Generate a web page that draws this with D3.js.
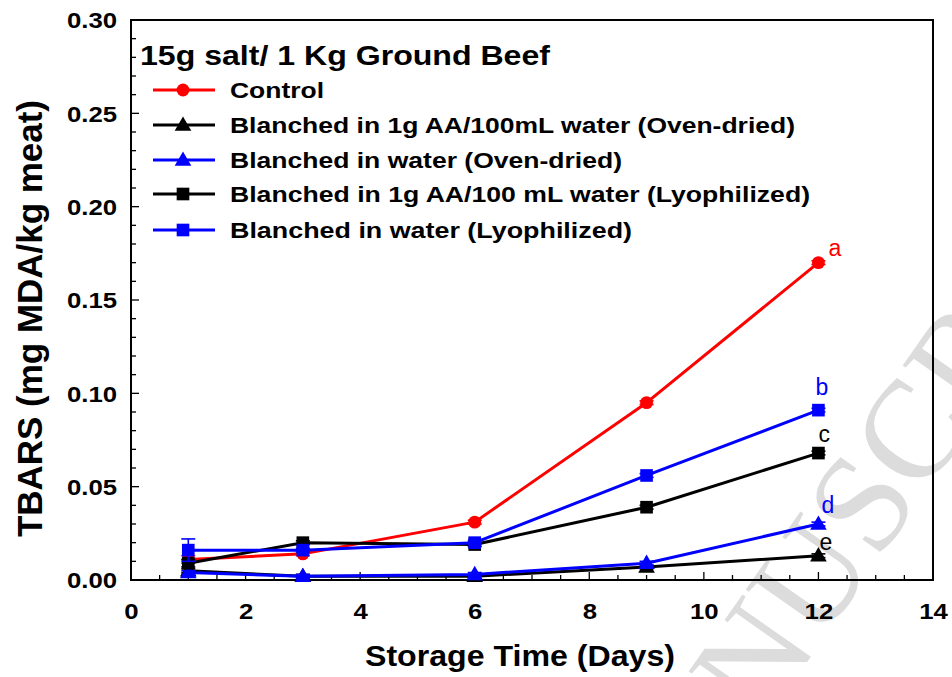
<!DOCTYPE html>
<html>
<head>
<meta charset="utf-8">
<script src="https://cdn.jsdelivr.net/npm/d3@7"></script>
<style>
  html, body { margin: 0; padding: 0; background: #fff; }
  svg { display: block; font-family: Arial, "Liberation Sans", sans-serif; }
</style>
</head>
<body>
<svg id="chart" width="952" height="677"></svg>
<script>
// ---- data ----
const days = [1, 3, 6, 9, 12];
const control   = [0.011, 0.014, 0.031, 0.095, 0.170];
const aaOven    = [0.005, 0.002, 0.002, 0.007, 0.013];
const waterOven = [0.004, 0.002, 0.003, 0.009, 0.030];
const aaLyo     = [0.009, 0.020, 0.019, 0.039, 0.068];
const waterLyo  = [0.016, 0.016, 0.020, 0.056, 0.091];

const controlErr   = [0.002, 0.001, 0.001, 0.001, 0.001];
const aaOvenErr    = [0.001, 0.001, 0.001, 0.001, 0.001];
const waterOvenErr = [0.001, 0.001, 0.001, 0.001, 0.001];
const aaLyoErr     = [0.002, 0.001, 0.001, 0.001, 0.001];
const waterLyoErr  = [0.006, 0.001, 0.001, 0.001, 0.001];

const seriesNames = [
  "Control",
  "Blanched in 1g AA/100mL water (Oven-dried)",
  "Blanched in water (Oven-dried)",
  "Blanched in 1g AA/100 mL water (Lyophilized)",
  "Blanched in water (Lyophilized)"
];
const seriesColors = ["#ff0000", "#000000", "#0000ff", "#000000", "#0000ff"];
const seriesMarkers = ["circle", "triangle", "triangle", "square", "square"];
const sigLetters = ["a", "e", "d", "c", "b"];

const xTicks = [0, 2, 4, 6, 8, 10, 12, 14];
const yTicks = [0.00, 0.05, 0.10, 0.15, 0.20, 0.25, 0.30];
const legendTitle = "15g salt/ 1 Kg Ground Beef";
const xTitle = "Storage Time (Days)";
const yTitle = "TBARS (mg MDA/kg meat)";
const watermark = "ACCEPTED MANUSCRIPT";

const series = [
  { values: control,   err: controlErr },
  { values: aaOven,    err: aaOvenErr },
  { values: waterOven, err: waterOvenErr },
  { values: aaLyo,     err: aaLyoErr },
  { values: waterLyo,  err: waterLyoErr }
].map((s, i) => ({ ...s, name: seriesNames[i], color: seriesColors[i], marker: seriesMarkers[i], letter: sigLetters[i] }));

// ---- layout ----
const svg = d3.select("#chart");
const pLeft = 131, pRight = 933, pTop = 20, pBottom = 580;
const x = d3.scaleLinear().domain([0, 14]).range([pLeft, pRight]);
const y = d3.scaleLinear().domain([0, 0.30]).range([pBottom, pTop]);
const STRETCH = 1.17;
const letterDx = [10, 1, 3, 0, -3];
const letterDy = [-7, -6, -11, -11, -15];

// watermark (behind everything)
const wmG = svg.append("g");
const wmFs = 140;
const wmT = wmG.append("text")
  .attr("x", 0).attr("y", 0)
  .attr("font-family", "'Liberation Serif', 'DejaVu Serif', serif")
  .attr("font-size", wmFs)
  .attr("fill", "#dcdcdc")
  .text(watermark);
{
  const idx = watermark.indexOf("S", watermark.indexOf("MANU"));
  const p = wmT.node().getStartPositionOfChar(idx);
  const th = -55 * Math.PI / 180;
  const u = p.x + 0.28 * wmFs, v = -0.33 * wmFs;
  const rx = u * Math.cos(th) - v * Math.sin(th);
  const ry = u * Math.sin(th) + v * Math.cos(th);
  const tx = 862 - rx, ty = 503 - ry;
  wmG.attr("transform", `translate(${tx},${ty}) rotate(-55)`);
}

// axes
const xAxis = d3.axisBottom(x).tickValues(xTicks).tickSize(0).tickPadding(0).tickFormat(d3.format("d"));
const yAxis = d3.axisLeft(y).tickValues(yTicks).tickSize(0).tickPadding(0).tickFormat(d3.format(".2f"));

const gx = svg.append("g").attr("transform", `translate(0,${pBottom})`).call(xAxis);
gx.select(".domain").remove();
gx.selectAll("text")
  .attr("x", 0).attr("y", 39).attr("dy", 0)
  .attr("transform", `scale(${STRETCH},1)`)
  .attr("font-size", 22).attr("font-weight", "bold").attr("fill", "#000")
  .attr("font-family", "Arial, 'Liberation Sans', sans-serif");

const gy = svg.append("g").attr("transform", `translate(${pLeft},0)`).call(yAxis);
gy.select(".domain").remove();
gy.selectAll("text")
  .attr("x", -14 / STRETCH).attr("dy", "0.36em")
  .attr("transform", `scale(${STRETCH},1)`)
  .attr("font-size", 22).attr("font-weight", "bold").attr("fill", "#000")
  .attr("font-family", "Arial, 'Liberation Sans', sans-serif");

// inward ticks
const xMinor = d3.range(0, 14.001, 0.5);
svg.append("g").selectAll("line").data(xMinor).join("line")
  .attr("x1", d => x(d)).attr("x2", d => x(d))
  .attr("y1", pBottom).attr("y2", d => pBottom - (Math.abs(d % 2) < 1e-9 ? 8 : 5))
  .attr("stroke", "#000").attr("stroke-width", 1.3);
const yMinor = d3.range(0, 0.3001, 0.01);
svg.append("g").selectAll("line").data(yMinor).join("line")
  .attr("y1", d => y(d)).attr("y2", d => y(d))
  .attr("x1", pLeft).attr("x2", (d, i) => pLeft + (i % 5 === 0 ? 8 : 5))
  .attr("stroke", "#000").attr("stroke-width", 1.3);

// frame
svg.append("rect")
  .attr("x", pLeft).attr("y", pTop).attr("width", pRight - pLeft).attr("height", pBottom - pTop)
  .attr("fill", "none").attr("stroke", "#000").attr("stroke-width", 2);

// axis titles
svg.append("text")
  .attr("x", 365).attr("y", 666)
  .attr("font-size", 30).attr("font-weight", "bold")
  .attr("textLength", 310).attr("lengthAdjust", "spacingAndGlyphs")
  .text(xTitle);
svg.append("text")
  .attr("transform", "translate(42,537) rotate(-90)")
  .attr("font-size", 35).attr("font-weight", "bold")
  .attr("textLength", 437).attr("lengthAdjust", "spacingAndGlyphs")
  .text(yTitle);

// symbols
function symPath(type) {
  if (type === "circle") return d3.symbol(d3.symbolCircle, 130)();
  if (type === "square") return d3.symbol(d3.symbolSquare, 160)();
  return d3.symbol(d3.symbolTriangle, 120)();
}

const line = d3.line().x((d, i) => x(days[i])).y(d => y(d));

series.forEach((s, si) => {
  const g = svg.append("g");
  g.append("path").datum(s.values)
    .attr("d", line).attr("fill", "none")
    .attr("stroke", s.color).attr("stroke-width", 3).attr("stroke-linejoin", "round");
  // error bars
  const eb = g.append("g").attr("stroke", s.color).attr("stroke-width", 1.6);
  s.values.forEach((v, i) => {
    const cx = x(days[i]);
    const y1 = y(v + s.err[i]), y0 = y(v - s.err[i]);
    eb.append("line").attr("x1", cx).attr("x2", cx).attr("y1", y1).attr("y2", y0);
    eb.append("line").attr("x1", cx - 7).attr("x2", cx + 7).attr("y1", y1).attr("y2", y1);
    eb.append("line").attr("x1", cx - 7).attr("x2", cx + 7).attr("y1", y0).attr("y2", y0);
  });
  g.selectAll("path.m").data(s.values).join("path").attr("class", "m")
    .attr("d", symPath(s.marker))
    .attr("transform", (d, i) => `translate(${x(days[i])},${y(d) + (s.marker === "triangle" ? 1 : 0)})`)
    .attr("fill", s.color);
  // significance letter at last point
  const last = s.values.length - 1;
  g.append("text")
    .attr("x", x(days[last]) + letterDx[si])
    .attr("y", y(s.values[last]) + letterDy[si])
    .attr("font-size", 23).attr("fill", s.color)
    .text(s.letter);
});

// legend
const lg = svg.append("g");
lg.append("text").attr("x", 140).attr("y", 65)
  .attr("font-size", 28).attr("font-weight", "bold")
  .attr("textLength", 410).attr("lengthAdjust", "spacingAndGlyphs")
  .text(legendTitle);
const legendY = [90, 125, 160, 194, 230];
const legendLen = [94, 565, 392, 580, 402];
series.forEach((s, i) => {
  const ly = legendY[i];
  lg.append("line").attr("x1", 153).attr("x2", 215).attr("y1", ly).attr("y2", ly)
    .attr("stroke", s.color).attr("stroke-width", 3);
  lg.append("path").attr("d", symPath(s.marker))
    .attr("transform", `translate(183,${ly + (s.marker === "triangle" ? 1 : 0)})`)
    .attr("fill", s.color);
  lg.append("text").attr("x", 230).attr("y", ly + 8)
    .attr("font-size", 22).attr("font-weight", "bold")
    .attr("textLength", legendLen[i]).attr("lengthAdjust", "spacingAndGlyphs")
    .text(s.name);
});
</script>
</body>
</html>
